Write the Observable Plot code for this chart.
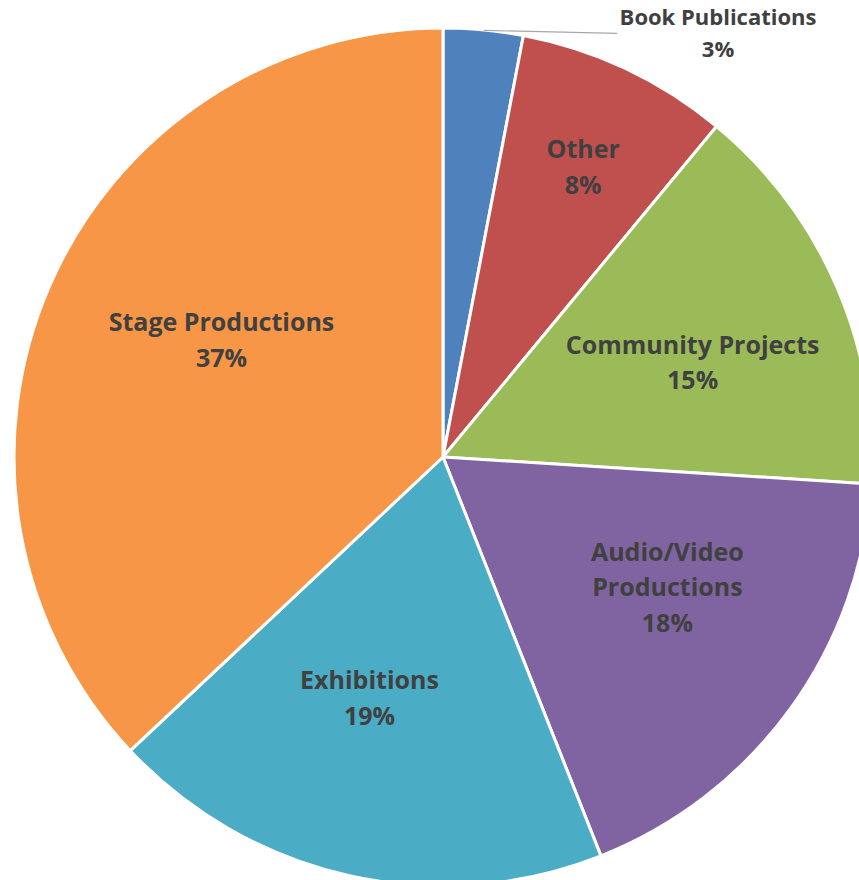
<!DOCTYPE html>
<html>
<head>
<meta charset="utf-8">
<script src="https://cdn.jsdelivr.net/npm/d3@7"></script>
<script src="https://cdn.jsdelivr.net/npm/@observablehq/plot@0.6"></script>
<style>
  html, body { margin: 0; padding: 0; background: #ffffff; }
  #chart svg { display: block; }
</style>
</head>
<body>
<div id="chart"></div>
<script>
// ---- data ----
const categories = ["Book Publications", "Other", "Community Projects", "Audio/Video Productions", "Exhibitions", "Stage Productions"];
const shares = [3, 8, 15, 18, 19, 37];
const labelText = ["Book Publications", "Other", "Community Projects", "Audio/Video\nProductions", "Exhibitions", "Stage Productions"];
const colors = ["#4F81BD", "#C0504D", "#9BBB59", "#8064A2", "#4BACC6", "#F79646"];

// ---- layout (not data) ----
const W = 859, H = 880, CX = 443, CY = 457, R = 429;
// label placement: radius fraction and angle offset (deg) from slice mid-angle
const labelRadius = [1.175, 0.748, 0.62, 0.605, 0.59, 0.584];
const labelAngleOffset = [27.6, 0.6, 2.9, -5.6, 4.4, 4.2];

const pie = d3.pie().sort(null).value(d => d.value)
  .startAngle(0).endAngle(2 * Math.PI);
const table = categories.map((c, i) => ({category: c, value: shares[i], color: colors[i], label: labelText[i], lr: labelRadius[i], la: labelAngleOffset[i]}));
const arcs = pie(table);

const labels = arcs.map(a => {
  const mid = (a.startAngle + a.endAngle) / 2 + a.data.la * Math.PI / 180;
  return {
    x: a.data.lr * Math.sin(mid),
    y: a.data.lr * Math.cos(mid),
    outside: a.data.lr > 1,
    text: a.data.label + "\n" + a.data.value + "%"
  };
});

// leader line for the small outside-labelled slice
const leaders = arcs.filter(a => a.data.lr > 1).map(a => {
  const mid = (a.startAngle + a.endAngle) / 2;
  const lab = labels[arcs.indexOf(a)];
  return {x1: Math.sin(mid), y1: Math.cos(mid), x2: lab.x - 0.235, y2: Math.cos(mid) - 0.007};
});

const sliceMark = (index, scales) => {
  const cx = scales.x(0), cy = scales.y(0), r = scales.x(1) - scales.x(0);
  const arc = d3.arc().innerRadius(0).outerRadius(r);
  const g = d3.create("svg:g").attr("transform", `translate(${cx},${cy})`);
  g.selectAll("path").data(arcs).join("path")
    .attr("d", arc)
    .attr("fill", d => d.data.color)
    .attr("stroke", "#ffffff")
    .attr("stroke-width", 3)
    .attr("stroke-linejoin", "round");
  return g.node();
};

const textStyle = {x: "x", y: "y", text: "text", fontWeight: "bold", fontFamily: "Open Sans",
  fill: "#404040", lineAnchor: "middle", textAnchor: "middle", dy: -4};

const chart = Plot.plot({
  width: W,
  height: H,
  margin: 0,
  style: {background: "#ffffff", overflow: "hidden"},
  x: {type: "linear", domain: [-CX / R, (W - CX) / R], axis: null},
  y: {type: "linear", domain: [-(H - CY) / R, CY / R], axis: null},
  marks: [
    sliceMark,
    Plot.link(leaders, {x1: "x1", y1: "y1", x2: "x2", y2: "y2", stroke: "#A6A6A6", strokeWidth: 1.2}),
    Plot.text(labels.filter(d => !d.outside), {...textStyle, fontSize: 25, lineHeight: 1.42}),
    Plot.text(labels.filter(d => d.outside), {...textStyle, fontSize: 22, lineHeight: 1.45})
  ]
});
document.getElementById("chart").appendChild(chart);
</script>
</body>
</html>
